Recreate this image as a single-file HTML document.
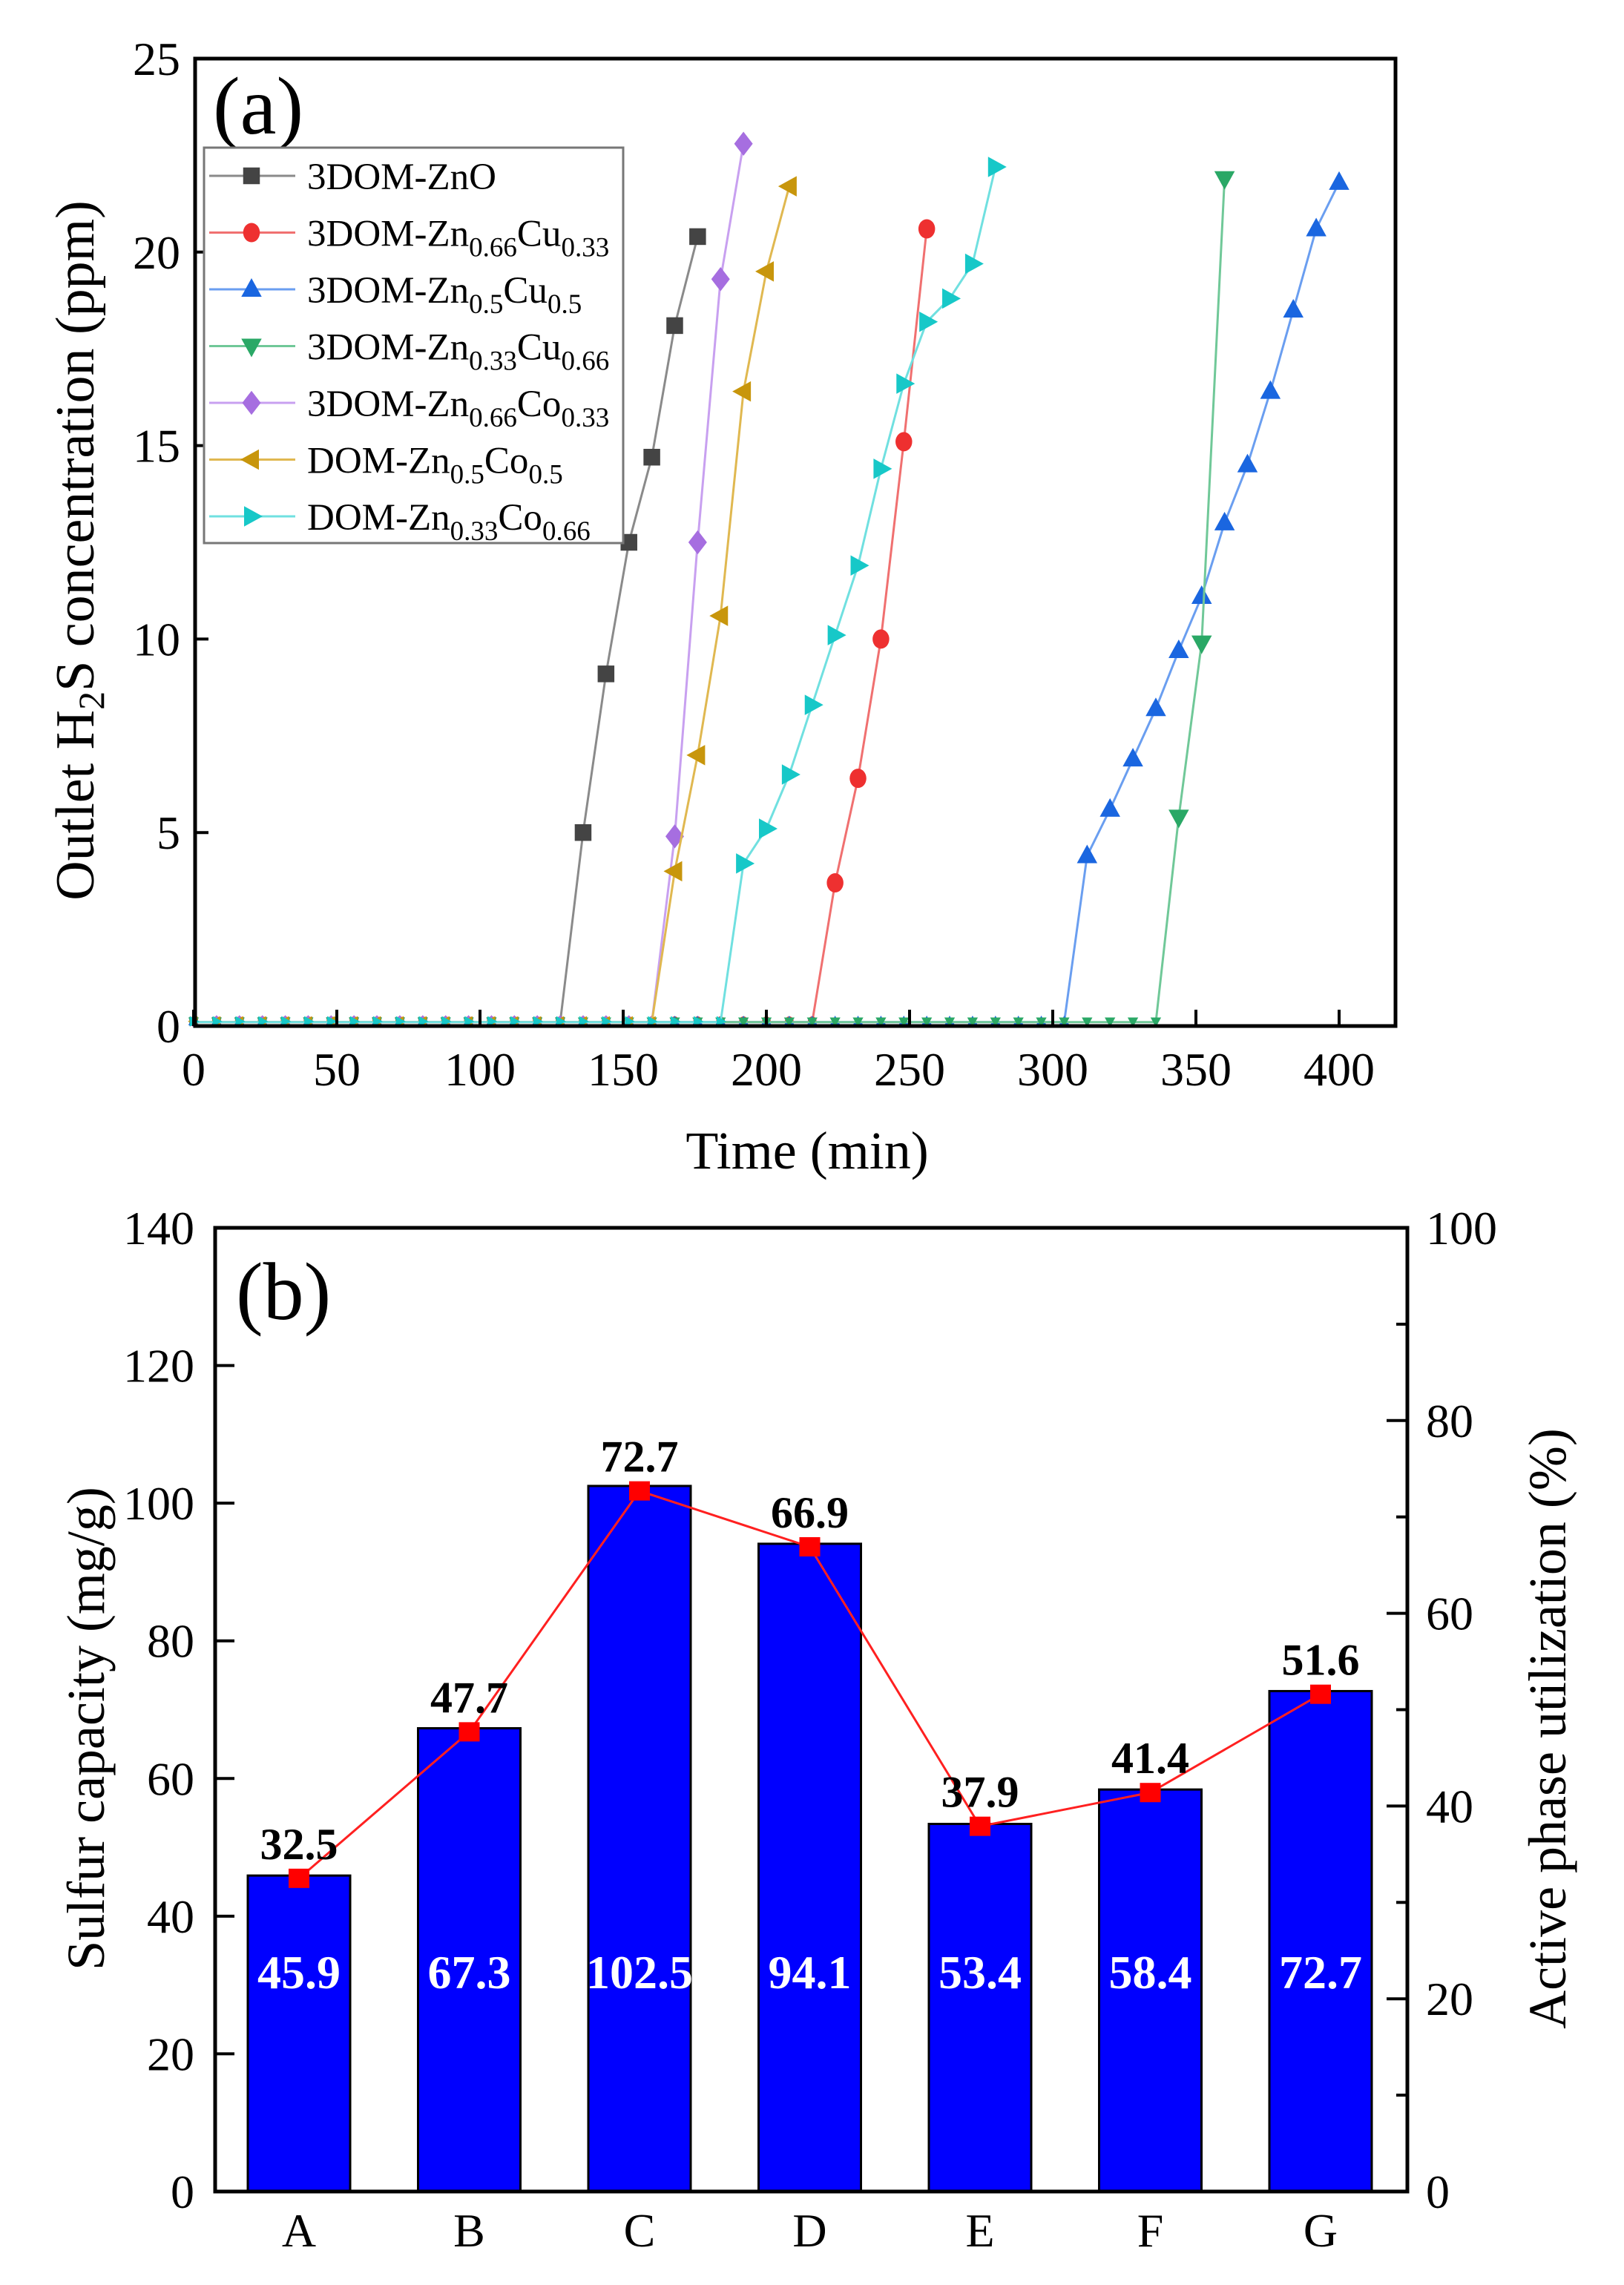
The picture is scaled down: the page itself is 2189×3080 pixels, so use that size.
<!DOCTYPE html>
<html><head><meta charset="utf-8"><style>
html,body{margin:0;padding:0;background:#fff}
svg{display:block}
text{font-family:"Liberation Serif",serif}
</style></head><body>
<svg width="2189" height="3080" viewBox="0 0 2189 3080" xmlns="http://www.w3.org/2000/svg">
<g id="a"></g>
<g id="b"></g>
<script>
const NS="http://www.w3.org/2000/svg";
function el(parent,tag,attrs,text){const e=document.createElementNS(NS,tag);for(const k in attrs)e.setAttribute(k,attrs[k]);if(text!==undefined)e.textContent=text;parent.appendChild(e);return e;}
function rich(t,parts,subSize,dy){parts.forEach((p,i)=>{if(i%2==0){el(t,'tspan',{dy:i==0?0:-dy},p);}else{el(t,'tspan',{'font-size':subSize,dy:dy},p);}});}
const A=document.getElementById('a'),B=document.getElementById('b');
const L=263,R=1881,T=79,Bt=1383;
const X=t=>261+t*3.86, Y=v=>Bt-(Bt-T)*v/25;
function marker(g,type,x,y,s,fill){
  if(type=='sq')el(g,'rect',{x:x-s*0.45,y:y-s*0.45,width:s*0.9,height:s*0.9,fill});
  else if(type=='ci')el(g,'ellipse',{cx:x,cy:y,rx:s*0.45,ry:s*0.52,fill});
  else if(type=='up')el(g,'polygon',{points:`${x},${y-s*0.6} ${x-s*0.55},${y+s*0.4} ${x+s*0.55},${y+s*0.4}`,fill});
  else if(type=='dn')el(g,'polygon',{points:`${x},${y+s*0.6} ${x-s*0.55},${y-s*0.4} ${x+s*0.55},${y-s*0.4}`,fill});
  else if(type=='di')el(g,'polygon',{points:`${x},${y-s*0.65} ${x+s*0.5},${y} ${x},${y+s*0.65} ${x-s*0.5},${y}`,fill});
  else if(type=='le')el(g,'polygon',{points:`${x-s*0.6},${y} ${x+s*0.4},${y-s*0.55} ${x+s*0.4},${y+s*0.55}`,fill});
  else if(type=='ri')el(g,'polygon',{points:`${x+s*0.6},${y} ${x-s*0.4},${y-s*0.55} ${x-s*0.4},${y+s*0.55}`,fill});
}
const series=[
 {m:'sq',c:'#444',lc:'#8a8a8a',base:128,pts:[[136,5.0],[144,9.1],[152,12.5],[160,14.7],[168,18.1],[176,20.4]]},
 {m:'ci',c:'#ee3030',lc:'#f07070',base:216,pts:[[224,3.7],[232,6.4],[240,10],[248,15.1],[256,20.6]]},
 {m:'up',c:'#1a66e0',lc:'#6a9ef0',base:304,pts:[[312,4.4],[320,5.6],[328,6.9],[336,8.2],[344,9.7],[352,11.1],[360,13],[368,14.5],[376,16.4],[384,18.5],[392,20.6],[400,21.8]]},
 {m:'dn',c:'#2aa866',lc:'#70c898',base:336,pts:[[344,5.4],[352,9.9],[360,21.9]]},
 {m:'di',c:'#a66ee0',lc:'#c8a0f0',base:160,pts:[[168,4.9],[176,12.5],[184,19.3],[192,22.8]]},
 {m:'le',c:'#c8960c',lc:'#e0b850',base:160,pts:[[168,4.0],[176,7.0],[184,10.6],[192,16.4],[200,19.5],[208,21.7]]},
 {m:'ri',c:'#17c8c8',lc:'#70e0e0',base:184,pts:[[192,4.2],[200,5.1],[208,6.5],[216,8.3],[224,10.1],[232,11.9],[240,14.4],[248,16.6],[256,18.2],[264,18.8],[272,19.7],[280,22.2]]}
];
series.forEach(s=>{
  let d=`M${X(0)},${Y(0.1)} L${X(s.base)},${Y(0.1)}`;
  s.pts.forEach(p=>d+=` L${X(p[0])},${Y(p[1])}`);
  el(A,'path',{d,fill:'none',stroke:s.lc,'stroke-width':3});
  for(let t=0;t<=s.base;t+=8)marker(A,s.m,X(t),Y(0.12),13,s.c);
  s.pts.forEach(p=>marker(A,s.m,X(p[0]),Y(p[1]),25,s.c));
});
el(A,'rect',{x:L,y:T,width:R-L,height:Bt-T,fill:'none',stroke:'#000','stroke-width':5});
for(let v=0;v<=25;v+=5){const y=Y(v);el(A,'line',{x1:L,y1:y,x2:L+18,y2:y,stroke:'#000','stroke-width':4});el(A,'text',{x:L-20,y:y+22,'font-size':64,'text-anchor':'end'},v);}
for(let t=0;t<=400;t+=50){const x=X(t);el(A,'line',{x1:x,y1:Bt,x2:x,y2:Bt-22,stroke:'#000','stroke-width':4});el(A,'text',{x:x,y:Bt+80,'font-size':64,'text-anchor':'middle'},t);}
el(A,'text',{x:1088,y:1575,'font-size':72,'text-anchor':'middle'},'Time (min)');
const yl=el(A,'text',{'font-size':74,'text-anchor':'middle',transform:'translate(126,742) rotate(-90)'});
rich(yl,['Outlet H','2','S concentration (ppm)'],50,14);
el(A,'text',{x:287,y:180,'font-size':110},'(a)');
el(A,'rect',{x:275,y:199,width:565,height:533,fill:'#fff',stroke:'#777','stroke-width':3});
const labs=[['3DOM-ZnO'],['3DOM-Zn','0.66','Cu','0.33'],['3DOM-Zn','0.5','Cu','0.5'],['3DOM-Zn','0.33','Cu','0.66'],['3DOM-Zn','0.66','Co','0.33'],['DOM-Zn','0.5','Co','0.5'],['DOM-Zn','0.33','Co','0.66']];
series.forEach((s,i)=>{
  const y=237+i*76.5;
  el(A,'line',{x1:282,y1:y,x2:398,y2:y,stroke:s.lc,'stroke-width':3});
  marker(A,s.m,339,y,25,s.c);
  const t=el(A,'text',{x:414,y:y+18,'font-size':51});
  rich(t,labs[i],37,14);
});
const bL=290,bR=1897,bT=1655,bB=2954;
const YL=v=>bB-(bB-bT)*v/140, YR=v=>bB-(bB-bT)*v/100;
const caps=[45.9,67.3,102.5,94.1,53.4,58.4,72.7], util=[32.5,47.7,72.7,66.9,37.9,41.4,51.6], cats='ABCDEFG';
const cx=i=>403+i*229.5;
caps.forEach((c,i)=>{el(B,'rect',{x:cx(i)-69,y:YL(c),width:138,height:bB-YL(c),fill:'#0000ff',stroke:'#000','stroke-width':3});
 el(B,'text',{x:cx(i),y:2680,'font-size':64,'font-weight':'bold',fill:'#fff','text-anchor':'middle'},c.toFixed(1));
 el(B,'text',{x:cx(i),y:3028,'font-size':64,'text-anchor':'middle'},cats[i]);});
el(B,'polyline',{points:util.map((u,i)=>`${cx(i)},${YR(u)}`).join(' '),fill:'none',stroke:'#ff2020','stroke-width':3});
util.forEach((u,i)=>{el(B,'rect',{x:cx(i)-14,y:YR(u)-13,width:28,height:26,fill:'#ff0000'});
 el(B,'text',{x:cx(i),y:YR(u)-26,'font-size':60,'font-weight':'bold','text-anchor':'middle'},u.toFixed(1));});
el(B,'rect',{x:bL,y:bT,width:bR-bL,height:bB-bT,fill:'none',stroke:'#000','stroke-width':5});
for(let v=0;v<=140;v+=20){const y=YL(v);el(B,'line',{x1:bL,y1:y,x2:bL+26,y2:y,stroke:'#000','stroke-width':4});el(B,'text',{x:262,y:y+22,'font-size':64,'text-anchor':'end'},v);}
for(let v=0;v<=100;v+=10){const y=YR(v);const maj=v%20==0;el(B,'line',{x1:bR,y1:y,x2:bR-(maj?28:15),y2:y,stroke:'#000','stroke-width':4});if(maj)el(B,'text',{x:1922,y:y+22,'font-size':64},v);}
el(B,'text',{'font-size':72,'text-anchor':'middle',transform:'translate(140,2330) rotate(-90)'},'Sulfur capacity (mg/g)');
el(B,'text',{'font-size':72,'text-anchor':'middle',transform:'translate(2110,2330) rotate(-90)'},'Active phase utilization (%)');
el(B,'text',{x:318,y:1778,'font-size':110},'(b)');
</script>
</svg>
</body></html>
